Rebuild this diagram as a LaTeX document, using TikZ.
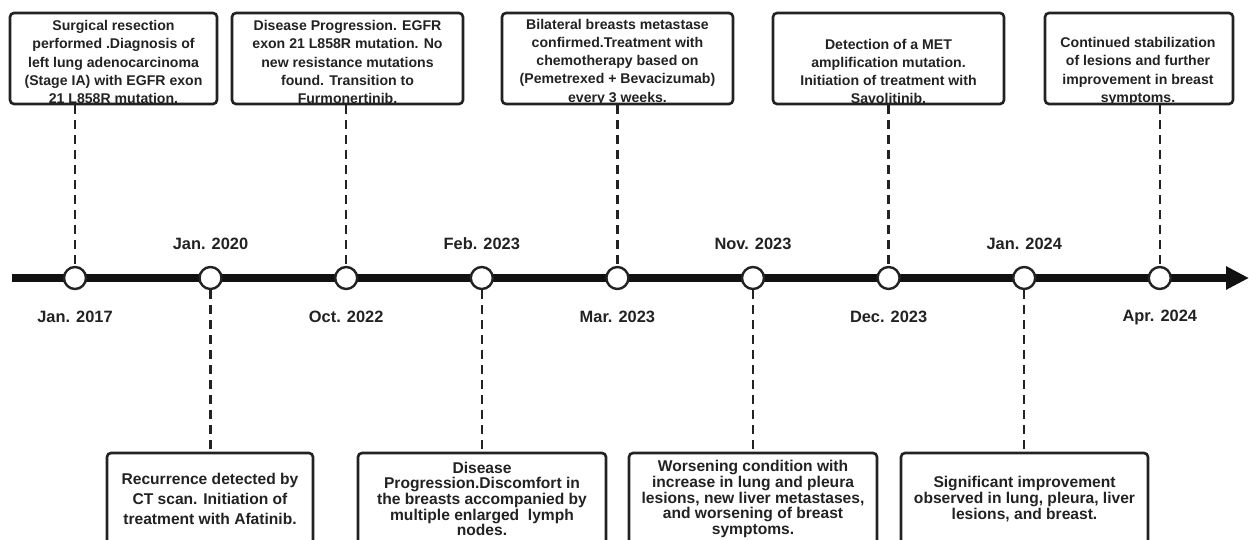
\documentclass[tikz,border=0pt]{standalone}
\usepackage{fontspec}
\setmainfont{Liberation Sans}
\usetikzlibrary{arrows.meta}
\definecolor{ink}{HTML}{222222}
\definecolor{axis}{HTML}{111111}
\begin{document}
\begin{tikzpicture}[x=1pt,y=-1pt,
  evbox/.style={draw=ink, line width=2.6pt, rounded corners=4pt, inner sep=0pt, align=center, text=ink},
  toptext/.style={font=\bfseries\fontsize{14.1}{18.3}\selectfont, text=ink, align=center, inner sep=0pt},
  botfont/.style={font=\bfseries\fontsize{15.6}{15.6}\selectfont},
  datelbl/.style={font=\bfseries\fontsize{16.4}{18}\selectfont, text=ink, inner sep=0pt},
  evdot/.style={circle, draw=ink, fill=white, line width=2.4pt, minimum size=22pt, inner sep=0pt},
  link/.style={draw=ink, line width=2.4pt, dash pattern=on 9pt off 6pt},
  mainline/.style={draw=axis, line width=8pt, -{Triangle[length=23pt,width=22pt]}}
]
\useasboundingbox (0,0) rectangle (1249,540);

% timeline
\coordinate (tstart) at (12,278);
\coordinate (tend) at (1249,278);
\draw[mainline] (tstart) -- (tend);

% top boxes
\node[evbox, minimum width=207pt, minimum height=91pt] (b1) at (113.5,58.5) {};
\node[evbox, minimum width=231pt, minimum height=91pt] (b2) at (347.5,58.5) {};
\node[evbox, minimum width=231pt, minimum height=91pt] (b3) at (617.5,58.5) {};
\node[evbox, minimum width=231pt, minimum height=91pt] (b4) at (888.5,58.5) {};
\node[evbox, minimum width=188pt, minimum height=91pt] (b5) at (1139,58.5) {};

\node[toptext] (t1) at (113.5,62) {Surgical resection\\performed .Diagnosis of\\left lung adenocarcinoma\\(Stage IA) with EGFR exon\\21 L858R mutation.};
\node[toptext] (t2) at (347.5,62) {Disease Progression. EGFR\\exon 21 L858R mutation. No\\new resistance mutations\\found. Transition to\\Furmonertinib.};
\node[toptext] (t3) at (617.5,62) {Bilateral breasts metastase\\confirmed.Treatment with\\chemotherapy based on\\(Pemetrexed + Bevacizumab)\\every 3 weeks.};
\node[toptext] (t4) at (888.5,71.5) {Detection of a MET\\amplification mutation.\\Initiation of treatment with\\Savolitinib.};
\node[toptext] (t5) at (1138,71.5) {Continued stabilization\\of lesions and further\\improvement in breast\\symptoms.};

% bottom boxes
\node[evbox, minimum width=206pt, minimum height=92pt, font=\bfseries\fontsize{15.6}{20.2}\selectfont] (c1) at (210,499) {Recurrence detected by\\CT scan. Initiation of\\treatment with Afatinib.};
\node[evbox, botfont, minimum width=248pt, minimum height=92pt] (c2) at (482,499) {Disease\\Progression.Discomfort in\\the breasts accompanied by\\multiple enlarged\ \ lymph\\nodes.};
\node[evbox, botfont, minimum width=248pt, minimum height=92pt] (c3) at (753,499) {Worsening condition with\\increase in lung and pleura\\lesions, new liver metastases,\\and worsening of breast\\symptoms.};
\node[evbox, botfont, minimum width=247pt, minimum height=92pt] (c4) at (1024.5,499) {Significant improvement\\observed in lung, pleura, liver\\lesions, and breast.};

% event dots
\node[evdot] (d1) at (75,278) {};
\node[evdot] (d2) at (210.5,278) {};
\node[evdot] (d3) at (346.2,278) {};
\node[evdot] (d4) at (481.8,278) {};
\node[evdot] (d5) at (617.4,278) {};
\node[evdot] (d6) at (753,278) {};
\node[evdot] (d7) at (888.6,278) {};
\node[evdot] (d8) at (1024.2,278) {};
\node[evdot] (d9) at (1159.8,278) {};

% connectors
\draw[link] (b1.south -| d1) -- (d1.north);
\draw[link] (b2.south -| d3) -- (d3.north);
\draw[link] (b3.south -| d5) -- (d5.north);
\draw[link] (b4.south -| d7) -- (d7.north);
\draw[link] (b5.south -| d9) -- (d9.north);
\draw[link] (d2.south) -- (c1.north -| d2);
\draw[link] (d4.south) -- (c2.north -| d4);
\draw[link] (d6.south) -- (c3.north -| d6);
\draw[link] (d8.south) -- (c4.north -| d8);

% date labels
\node[datelbl] (l1) at (75,317) {Jan. 2017};
\node[datelbl] (l2) at (210.5,244) {Jan. 2020};
\node[datelbl] (l3) at (346.2,317) {Oct. 2022};
\node[datelbl] (l4) at (481.8,244) {Feb. 2023};
\node[datelbl] (l5) at (617.4,317) {Mar. 2023};
\node[datelbl] (l6) at (753,244) {Nov. 2023};
\node[datelbl] (l7) at (888.6,317) {Dec. 2023};
\node[datelbl] (l8) at (1024.2,244) {Jan. 2024};
\node[datelbl] (l9) at (1159.8,317) {Apr. 2024};
\end{tikzpicture}
\end{document}
